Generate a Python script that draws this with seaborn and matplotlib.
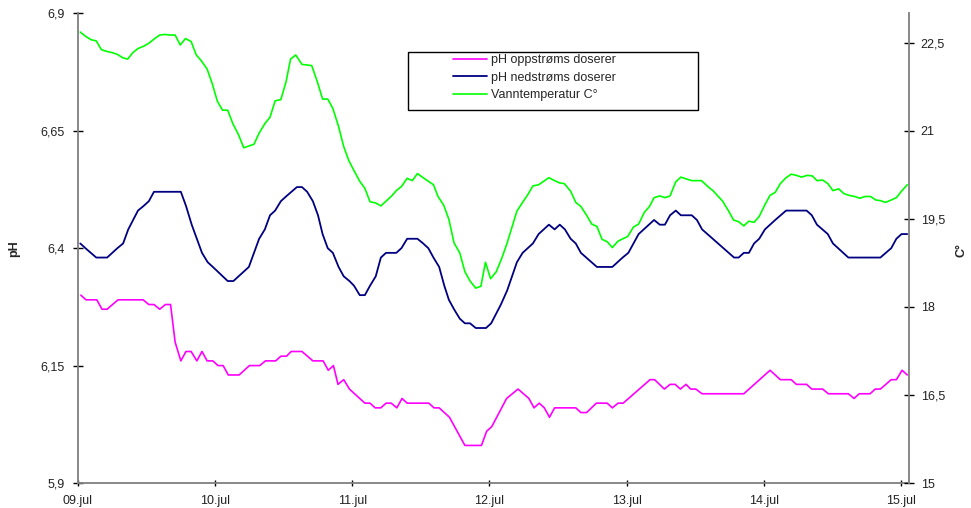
import matplotlib.pyplot as plt
import seaborn as sns
from matplotlib.patches import Rectangle

# Verdier lest av figuren (timer etter 09.jul 00:00)
timer_opp = [0.5, 1.4, 3.3, 4.2, 5.1, 7.0, 11.4, 12.4, 13.3, 14.3, 15.3, 16.2, 17.0, 18.0, 18.9,
             19.8, 20.8, 21.7, 22.6, 23.6, 24.5, 25.4, 26.3, 28.2, 30.0, 31.8, 32.8, 34.6, 35.5,
             36.5, 37.3, 39.2, 41.1, 42.9, 43.8, 44.7, 45.5, 46.5, 47.5, 50.2, 51.1, 52.0, 53.0,
             53.9, 54.8, 55.8, 56.7, 57.6, 61.4, 62.3, 63.2, 65.0, 67.7, 70.6, 71.5, 72.4, 75.0,
             77.0, 78.9, 79.8, 80.7, 81.6, 82.5, 83.4, 87.1, 88.0, 89.0, 90.7, 92.6, 93.5, 94.5,
             95.4, 100.1, 100.9, 102.6, 103.6, 104.5, 105.4, 106.4, 107.2, 108.1, 109.2, 116.5,
             121.1, 122.9, 124.8, 125.7, 127.5, 128.4, 130.3, 131.3, 134.8, 135.8, 136.7, 138.6,
             139.5, 140.4, 142.3, 143.2, 144.2, 145.1]
ph_opp = [6.30, 6.29, 6.29, 6.27, 6.27, 6.29, 6.29, 6.28, 6.28, 6.27, 6.28, 6.28, 6.20, 6.16, 6.18,
          6.18, 6.16, 6.18, 6.16, 6.16, 6.15, 6.15, 6.13, 6.13, 6.15, 6.15, 6.16, 6.16, 6.17,
          6.17, 6.18, 6.18, 6.16, 6.16, 6.14, 6.15, 6.11, 6.12, 6.10, 6.07, 6.07, 6.06, 6.06,
          6.07, 6.07, 6.06, 6.08, 6.07, 6.07, 6.06, 6.06, 6.04, 5.98, 5.98, 6.01, 6.02, 6.08,
          6.10, 6.08, 6.06, 6.07, 6.06, 6.04, 6.06, 6.06, 6.05, 6.05, 6.07, 6.07, 6.06, 6.07,
          6.07, 6.12, 6.12, 6.10, 6.11, 6.11, 6.10, 6.11, 6.10, 6.10, 6.09, 6.09,
          6.14, 6.12, 6.12, 6.11, 6.11, 6.10, 6.10, 6.09, 6.09, 6.08, 6.09, 6.09,
          6.10, 6.10, 6.12, 6.12, 6.14, 6.13]

timer_ned = [0.4, 1.3, 3.2, 5.1, 6.9, 7.9, 8.8, 10.5, 11.5, 12.4, 13.3, 18.0, 18.9, 19.9, 20.8,
             21.7, 22.7, 23.6, 26.2, 27.2, 29.9, 30.8, 31.7, 32.7, 33.6, 34.5, 35.5, 36.4, 38.3,
             39.2, 40.1, 41.1, 42.0, 42.8, 43.7, 44.6, 45.6, 46.5, 47.5, 48.3, 49.3, 50.2, 51.1,
             52.1, 53.0, 53.9, 55.7, 56.6, 57.6, 59.4, 60.4, 61.3, 62.2, 63.2, 64.1, 64.9, 65.8,
             66.8, 67.7, 68.6, 69.6, 71.4, 72.3, 74.0, 75.1, 76.8, 77.8, 79.6, 80.6, 82.4, 83.4,
             84.3, 85.2, 86.2, 87.1, 88.0, 90.8, 93.5, 95.3, 96.3, 98.1, 100.8, 101.8, 102.7,
             103.6, 104.6, 105.5, 107.4, 108.3, 109.2, 114.8, 115.6, 116.5, 117.4, 118.3, 119.2,
             120.2, 122.0, 123.9, 127.5, 128.4, 129.3, 131.2, 132.1, 134.8, 140.4, 142.3, 143.2,
             144.1, 145.1]
ph_ned = [6.41, 6.40, 6.38, 6.38, 6.40, 6.41, 6.44, 6.48, 6.49, 6.50, 6.52, 6.52, 6.49, 6.45, 6.42,
          6.39, 6.37, 6.36, 6.33, 6.33, 6.36, 6.39, 6.42, 6.44, 6.47, 6.48, 6.50, 6.51, 6.53,
          6.53, 6.52, 6.50, 6.47, 6.43, 6.40, 6.39, 6.36, 6.34, 6.33, 6.32, 6.30, 6.30, 6.32,
          6.34, 6.38, 6.39, 6.39, 6.40, 6.42, 6.42, 6.41, 6.40, 6.38, 6.36, 6.32, 6.29, 6.27,
          6.25, 6.24, 6.24, 6.23, 6.23, 6.24, 6.28, 6.31, 6.37, 6.39, 6.41, 6.43, 6.45, 6.44,
          6.45, 6.44, 6.42, 6.41, 6.39, 6.36, 6.36, 6.38, 6.39, 6.43, 6.46, 6.45, 6.45,
          6.47, 6.48, 6.47, 6.47, 6.46, 6.44, 6.38, 6.38, 6.39, 6.39, 6.41, 6.42,
          6.44, 6.46, 6.48, 6.48, 6.47, 6.45, 6.43, 6.41, 6.38, 6.38, 6.40, 6.42,
          6.43, 6.43]

timer_temp = [0.4, 1.3, 2.3, 3.2, 4.1, 5.1, 6.0, 6.9, 7.9, 8.7, 9.6, 10.5, 11.5, 12.4, 13.3, 14.3,
              15.2, 16.1, 17.0, 17.9, 18.8, 19.8, 20.7, 21.6, 22.6, 23.5, 24.4, 25.3, 26.2, 27.1,
              28.1, 29.0, 30.8, 31.7, 32.7, 33.6, 34.5, 35.5, 36.4, 37.2, 38.1, 39.2, 40.9, 41.9,
              42.8, 43.7, 44.6, 45.6, 46.5, 47.4, 48.3, 49.3, 50.2, 51.1, 52.1, 53.0, 53.9, 54.9,
              55.7, 56.6, 57.6, 58.5, 59.4, 60.4, 61.3, 62.2, 63.0, 64.0, 64.9, 65.8, 66.8, 67.7,
              68.6, 69.6, 70.5, 71.3, 72.2, 73.2, 74.2, 75.1, 76.8, 77.8, 78.7, 79.6, 80.6, 81.5,
              82.4, 83.4, 84.3, 85.1, 86.2, 87.1, 88.0, 89.0, 89.9, 90.8, 91.7, 92.6, 93.5, 94.5,
              96.2, 97.2, 98.1, 99.1, 100.0, 100.8, 101.8, 102.7, 103.6, 104.6, 105.5, 106.4,
              107.4, 109.1, 110.2, 111.1, 112.8, 113.8, 114.7, 115.6, 116.5, 117.4, 118.3, 119.2,
              120.2, 121.1, 122.0, 122.9, 123.9, 124.8, 125.7, 126.6, 127.6, 128.5, 129.3, 130.3,
              131.2, 132.1, 133.1, 134.0, 134.9, 135.9, 136.8, 137.7, 138.7, 139.6, 140.4, 141.3,
              142.3, 143.2, 144.1, 145.1]
temp = [22.68, 22.61, 22.55, 22.53, 22.38, 22.35, 22.33, 22.30, 22.24, 22.22, 22.33, 22.40, 22.44,
        22.49, 22.56, 22.63, 22.64, 22.63, 22.63, 22.46, 22.57, 22.52, 22.29, 22.19, 22.05, 21.80,
        21.50, 21.35, 21.35, 21.12, 20.93, 20.71, 20.77, 20.96, 21.12, 21.23, 21.51, 21.53, 21.83,
        22.22, 22.29, 22.13, 22.11, 21.83, 21.54, 21.54, 21.38, 21.07, 20.73, 20.49, 20.32, 20.14,
        20.02, 19.79, 19.77, 19.72, 19.80, 19.89, 19.98, 20.05, 20.19, 20.15, 20.27, 20.20, 20.14,
        20.08, 19.88, 19.73, 19.49, 19.09, 18.92, 18.60, 18.44, 18.32, 18.35, 18.76, 18.48, 18.60,
        18.84, 19.09, 19.63, 19.78, 19.91, 20.06, 20.08, 20.14, 20.20, 20.15, 20.11, 20.10, 19.97,
        19.78, 19.71, 19.56, 19.41, 19.37, 19.15, 19.11, 19.01, 19.12, 19.20, 19.36, 19.41, 19.61,
        19.71, 19.86, 19.89, 19.86, 19.89, 20.13, 20.21, 20.18, 20.15, 20.15, 20.05, 19.98, 19.80,
        19.64, 19.48, 19.45, 19.38, 19.46, 19.44, 19.54, 19.74, 19.90, 19.95, 20.10, 20.20, 20.26,
        20.24, 20.21, 20.24, 20.23, 20.15, 20.16, 20.10, 19.98, 20.01, 19.93, 19.90, 19.88, 19.85,
        19.88, 19.88, 19.82, 19.81, 19.78, 19.82, 19.86, 19.97, 20.08]

dag_timer = [0, 24, 48, 72, 96, 120, 144]
dag_labels = ["09.jul", "10.jul", "11.jul", "12.jul", "13.jul", "14.jul", "15.jul"]
ph_ticks = [5.9, 6.15, 6.4, 6.65, 6.9]
ph_labels = ["5,9", "6,15", "6,4", "6,65", "6,9"]
temp_ticks = [15, 16.5, 18, 19.5, 21, 22.5]
temp_labels = ["15", "16,5", "18", "19,5", "21", "22,5"]

sns.set_style("white")
plt.rcParams["font.family"] = ["Liberation Sans", "DejaVu Sans"]

fig = plt.figure(figsize=(9.71, 5.08), dpi=100)
ax = fig.add_axes([0.0803, 0.0492, 0.8558, 0.9246])
ax2 = ax.twinx()

sns.lineplot(x=timer_opp, y=ph_opp, ax=ax, color="#ff00ff", linewidth=1.2,
             label="pH oppstrøms doserer", legend=False)
sns.lineplot(x=timer_ned, y=ph_ned, ax=ax, color="#000080", linewidth=1.3,
             label="pH nedstrøms doserer", legend=False)
sns.lineplot(x=timer_temp, y=temp, ax=ax2, color="#00ff00", linewidth=1.2,
             label="Vanntemperatur C°", legend=False)

ax.set_xlim(0, 145.4)
ax.set_ylim(5.9, 6.9)
ax2.set_ylim(15, 23)

ax.set_xticks(dag_timer)
ax.set_xticklabels(dag_labels)
ax.set_yticks(ph_ticks)
ax.set_yticklabels(ph_labels)
ax2.set_yticks(temp_ticks)
ax2.set_yticklabels(temp_labels)

spine_col = "#7f7f7f"
for s in ["top", "right"]:
    ax.spines[s].set_visible(False)
for s in ["top", "left", "bottom"]:
    ax2.spines[s].set_visible(False)
for s in [ax.spines["left"], ax.spines["bottom"], ax2.spines["right"]]:
    s.set_color(spine_col)
    s.set_linewidth(1.3)

ax.tick_params(axis="y", left=True, direction="inout", length=7, width=1, color="black",
               labelsize=9, labelcolor="#222222", pad=6)
ax.tick_params(axis="x", bottom=True, direction="inout", length=5, width=1, color="black",
               labelsize=9, labelcolor="#222222", pad=6)
ax2.tick_params(axis="y", right=True, left=False, direction="inout", length=7, width=1,
                color="black", labelsize=9, labelcolor="#222222", pad=5)

ax.set_xlabel("")
ax.set_ylabel("pH", fontsize=9, fontweight="bold")
ax.yaxis.set_label_coords(-0.07, 0.5)
ax2.set_ylabel("C°", fontsize=9, fontweight="bold")
ax2.yaxis.set_label_coords(1.056, 0.497)

h1, l1 = ax.get_legend_handles_labels()
h2, l2 = ax2.get_legend_handles_labels()
ax2.legend(h1 + h2, l1 + l2, loc="upper left", bbox_to_anchor=(453 / 971, 1 - 54 / 508),
           bbox_transform=fig.transFigure, frameon=False, fontsize=9, borderpad=0,
           borderaxespad=0, handlelength=2.7, handletextpad=0.35, labelspacing=0.45)
fig.patches.append(Rectangle((408 / 971, 1 - 110 / 508), 290 / 971, 58 / 508,
                             transform=fig.transFigure, fill=False, edgecolor="black",
                             linewidth=1.0))

fig.savefig("out.png", dpi=100)
